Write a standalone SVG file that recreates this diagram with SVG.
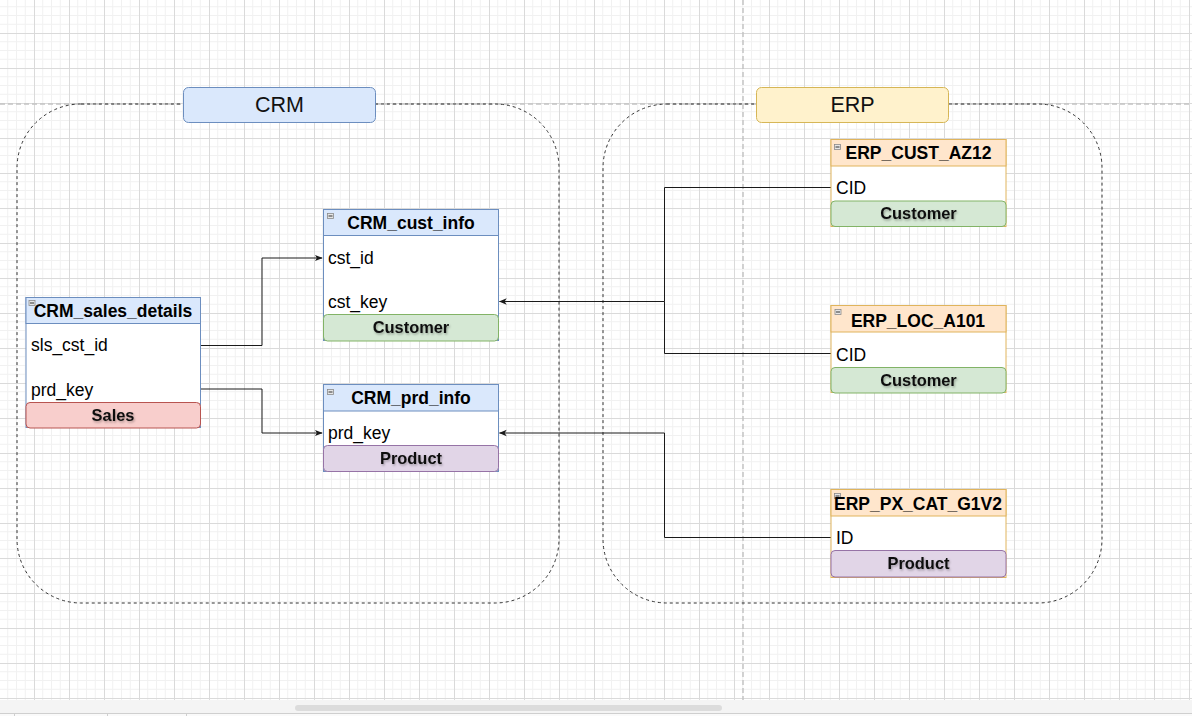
<svg xmlns="http://www.w3.org/2000/svg" width="1192" height="716" viewBox="0 0 1192 716">
  <defs>
    <pattern id="grid" x="34" y="33" width="35" height="35" patternUnits="userSpaceOnUse">
      <path d="M8.75 0V35M17.5 0V35M26.25 0V35M0 8.75H35M0 17.5H35M0 26.25H35" stroke="#f1f1f1" stroke-width="1" fill="none"/>
      <path d="M0.5 0V35M0 0.5H35" stroke="#dadada" stroke-width="1" fill="none"/>
    </pattern>
    <marker id="arrow" viewBox="0 0 10 10" refX="9" refY="5" markerWidth="8" markerHeight="8" markerUnits="userSpaceOnUse" orient="auto">
      <path d="M0 1L10 5L0 9L2.5 5Z" fill="#1a1a1a"/>
    </marker>
    <filter id="tshadow" x="-10%" y="-30%" width="130%" height="170%">
      <feDropShadow dx="1" dy="1.5" stdDeviation="1" flood-color="#000" flood-opacity="0.3"/>
    </filter>
    <g id="minus">
      <rect x="0" y="0" width="6" height="5" fill="#e6e6e6" stroke="#8a8a8a" stroke-width="0.8"/>
      <path d="M1 2.5H5" stroke="#333" stroke-width="1"/>
    </g>
  </defs>
  <style>
    .hdr { font-family: "Liberation Sans", Arial, sans-serif; font-size: 17.5px; font-weight: bold; fill: #000; text-anchor: middle; }
    .row { font-family: "Liberation Sans", Arial, sans-serif; font-size: 17.5px; fill: #000; }
    .bar { font-family: "Liberation Sans", Arial, sans-serif; font-size: 16.4px; font-weight: bold; fill: #111; text-anchor: middle; filter: url(#tshadow); }
    .grp { font-family: "Liberation Sans", Arial, sans-serif; font-size: 21.5px; fill: #111; text-anchor: middle; }
    .crm-t { stroke: #6c8ebf; stroke-width: 1; }
    .erp-t { stroke: #e0b45c; stroke-width: 1; }
    .body { fill: #ffffff; }
    .crm-h { fill: #dae8fc; }
    .erp-h { fill: #ffe6cc; }
    .green { fill: #d5e8d4; stroke: #82b366; stroke-width: 1; }
    .red { fill: #f8cecc; stroke: #b85450; stroke-width: 1; }
    .purple { fill: #e1d5e7; stroke: #9673a6; stroke-width: 1; }
    .container { fill: none; stroke: #333; stroke-width: 1; stroke-dasharray: 3 3; }
    .pagebreak { fill: none; stroke: #c4c4c4; stroke-width: 1.5; stroke-dasharray: 5 3; }
    .edge { fill: none; stroke: #1a1a1a; stroke-width: 1; }
  </style>

  <!-- canvas and grid -->
  <rect x="0" y="0" width="1192" height="716" fill="#ffffff"/>
  <rect x="0" y="0" width="1192" height="700" fill="url(#grid)"/>

  <!-- page breaks -->
  <path class="pagebreak" d="M0 104H1192"/>
  <path class="pagebreak" d="M743 0V700"/>

  <!-- bottom scroll strip -->
  <rect x="0" y="700" width="1192" height="13" fill="#f4f4f4"/>
  <rect x="295" y="705" width="427" height="6" rx="3" fill="#dcdcdc"/>
  <path d="M0 713.5H1192" stroke="#cfcfcf" stroke-width="1"/>
  <rect x="0" y="714" width="1192" height="2" fill="#fafafa"/>
  <path d="M14.5 714V716M107.5 714V716M186.5 714V716" stroke="#cfcfcf" stroke-width="1"/>

  <!-- group containers -->
  <g id="crm-group">
    <rect class="container" x="17" y="104" width="542" height="499" rx="64" ry="64"/>
    <rect x="183.5" y="87.5" width="192" height="35" rx="5" fill="#dae8fc" stroke="#6c8ebf" stroke-width="1"/>
    <text class="grp" x="279.5" y="112">CRM</text>
  </g>
  <g id="erp-group">
    <rect class="container" x="603" y="104" width="499" height="499" rx="64" ry="64"/>
    <rect x="756.5" y="87.5" width="192" height="35" rx="5" fill="#fff2cc" stroke="#d6b656" stroke-width="1"/>
    <text class="grp" x="852.5" y="112">ERP</text>
  </g>

  <!-- connectors -->
  <g id="connectors">
    <path class="edge" d="M200.5 345.5H262V258H322" marker-end="url(#arrow)"/>
    <path class="edge" d="M200.5 389H262V433H322" marker-end="url(#arrow)"/>
    <path class="edge" d="M831 187.5H664.5V301.5H499.5" marker-end="url(#arrow)"/>
    <path class="edge" d="M831 353.5H664.5V301.5"/>
    <path class="edge" d="M831 537.5H664.5V433H499.5" marker-end="url(#arrow)"/>
  </g>

  <!-- CRM tables -->
  <g id="crm-sales-details">
    <rect class="body crm-t" x="26" y="297.5" width="174.5" height="130"/>
    <rect class="crm-h crm-t" x="26" y="297.5" width="174.5" height="26"/>
    <use href="#minus" x="29" y="300.5"/>
    <text class="hdr" x="113" y="316.5">CRM_sales_details</text>
    <text class="row" x="31" y="351">sls_cst_id</text>
    <text class="row" x="31" y="395.5">prd_key</text>
    <rect class="red" x="26" y="402.5" width="174.5" height="25.5" rx="4"/>
    <text class="bar" x="113" y="421">Sales</text>
  </g>

  <g id="crm-cust-info">
    <rect class="body crm-t" x="323.5" y="209.5" width="175" height="131"/>
    <rect class="crm-h crm-t" x="323.5" y="209.5" width="175" height="26"/>
    <use href="#minus" x="327.5" y="213.5"/>
    <text class="hdr" x="411" y="229">CRM_cust_info</text>
    <text class="row" x="328" y="264">cst_id</text>
    <text class="row" x="328" y="308">cst_key</text>
    <rect class="green" x="323.5" y="314.5" width="175" height="26.5" rx="4"/>
    <text class="bar" x="411" y="333">Customer</text>
  </g>

  <g id="crm-prd-info">
    <rect class="body crm-t" x="323.5" y="384.5" width="175" height="87"/>
    <rect class="crm-h crm-t" x="323.5" y="384.5" width="175" height="26.5"/>
    <use href="#minus" x="327.5" y="389.5"/>
    <text class="hdr" x="411" y="404">CRM_prd_info</text>
    <text class="row" x="328" y="439">prd_key</text>
    <rect class="purple" x="323.5" y="445.5" width="175" height="26" rx="4"/>
    <text class="bar" x="411" y="464">Product</text>
  </g>

  <!-- ERP tables -->
  <g id="erp-cust-az12">
    <rect class="body erp-t" x="831" y="139.5" width="175" height="87"/>
    <rect class="erp-h erp-t" x="831" y="139.5" width="175" height="26.5"/>
    <use href="#minus" x="834.5" y="144.5"/>
    <text class="hdr" x="918.5" y="159">ERP_CUST_AZ12</text>
    <text class="row" x="836" y="194">CID</text>
    <rect class="green" x="831" y="201" width="175" height="25.5" rx="4"/>
    <text class="bar" x="918.5" y="219">Customer</text>
  </g>

  <g id="erp-loc-a101">
    <rect class="body erp-t" x="831" y="305.5" width="175" height="87"/>
    <rect class="erp-h erp-t" x="831" y="305.5" width="175" height="26.5"/>
    <use href="#minus" x="835" y="309.5"/>
    <text class="hdr" x="918" y="326.5">ERP_LOC_A101</text>
    <text class="row" x="836" y="360.5">CID</text>
    <rect class="green" x="831" y="367.5" width="175" height="25.5" rx="4"/>
    <text class="bar" x="918.5" y="386">Customer</text>
  </g>

  <g id="erp-px-cat-g1v2">
    <rect class="body erp-t" x="831" y="489.5" width="175" height="88"/>
    <rect class="erp-h erp-t" x="831" y="489.5" width="175" height="26.5"/>
    <use href="#minus" x="834.5" y="493.5"/>
    <text class="hdr" x="918" y="509.5">ERP_PX_CAT_G1V2</text>
    <text class="row" x="836" y="544">ID</text>
    <rect class="purple" x="831" y="550.5" width="175" height="26.5" rx="4"/>
    <text class="bar" x="918.5" y="569">Product</text>
  </g>
</svg>
